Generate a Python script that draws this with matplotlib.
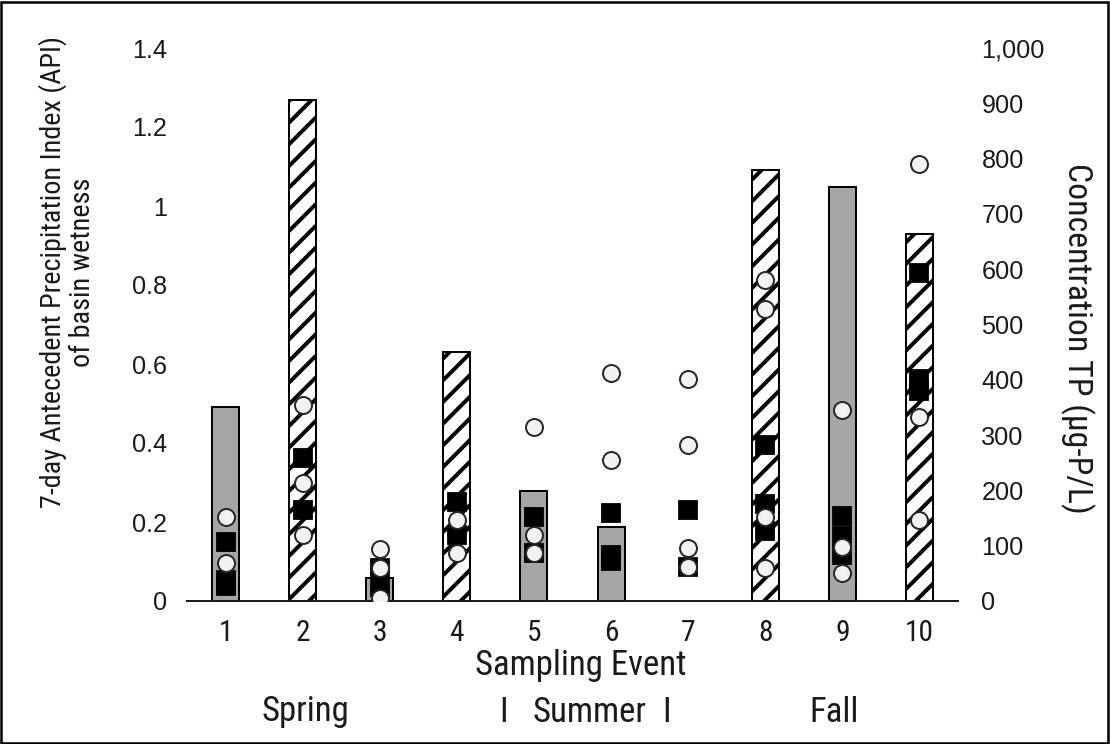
import matplotlib
matplotlib.use("Agg")
import matplotlib.pyplot as plt
from matplotlib.patches import Rectangle
from matplotlib import font_manager as fm
import matplotlib.transforms as mtransforms
import os

# ---------------- data ----------------
events = [1, 2, 3, 4, 5, 6, 7, 8, 9, 10]
api = [0.49, 1.268, 0.058, 0.63, 0.278, 0.187, 0.0, 1.09, 1.048, 0.929]
bar_hatched = [False, True, False, True, False, False, False, True, False, True]

# TP concentrations (ug-P/L), open circles
circle_tp = {
    1: [152, 69],
    2: [354, 213, 119],
    3: [94, 60, 6],
    4: [146, 87],
    5: [315, 119, 87],
    6: [412, 255],
    7: [401, 282, 96, 61],
    8: [580, 528, 152, 60],
    9: [345, 98, 51],
    10: [790, 333, 146],
}
# TP concentrations (ug-P/L), black squares
square_tp = {
    1: [107, 38, 28],
    2: [259, 165],
    3: [60, 25],
    4: [179, 119],
    5: [152, 87],
    6: [159, 83, 72],
    7: [165, 61],
    8: [282, 176, 126],
    9: [153, 118, 84],
    10: [593, 402, 379],
}

left_ticks = [0, 0.2, 0.4, 0.6, 0.8, 1.0, 1.2, 1.4]
left_ticklabels = ["0", "0.2", "0.4", "0.6", "0.8", "1", "1.2", "1.4"]
right_ticks = [0, 100, 200, 300, 400, 500, 600, 700, 800, 900, 1000]
right_ticklabels = ["0", "100", "200", "300", "400", "500", "600", "700", "800", "900", "1,000"]
seasons = [("Spring", 2.03), ("I", 4.6), ("Summer", 5.72), ("I", 6.72), ("Fall", 8.89)]
ylabel_left = "7-day Antecedent Precipitation Index (API)\nof basin wetness"
ylabel_right = "Concentration TP (\u00b5g-P/L)"
xlabel = "Sampling Event"

# ---------------- fonts ----------------
def pick_narrow_font():
    prefs = ["LiberationSansNarrow-Regular", "ArialNarrow", "ARIALN",
             "RobotoCondensed-Regular", "NotoSans-Condensed.", "NotoSans-SemiCondensed.",
             "DejaVuSansCondensed.", "OpenSans-Condensed"]
    files = [f.fname for f in fm.fontManager.ttflist]
    for p in prefs:
        for fn in files:
            if p.lower() in os.path.basename(fn).lower():
                return fn
    return None

narrow_file = pick_narrow_font()
def narrow_fp(size):
    if narrow_file:
        return fm.FontProperties(fname=narrow_file, size=size)
    return fm.FontProperties(family=["Liberation Sans", "DejaVu Sans"], size=size)

def regular_fp(size):
    return fm.FontProperties(family=["Liberation Sans", "DejaVu Sans"], size=size)

# ---------------- style ----------------
DPI = 130
W, H = 1110, 744
plt.rcParams["hatch.linewidth"] = 2.2
plt.rcParams["hatch.color"] = "black"
txt_color = "#1a1a1a"

fig = plt.figure(figsize=(W / DPI, H / DPI), dpi=DPI)
ax = fig.add_axes([187 / W, 1 - 601 / H, (958 - 187) / W, (601 - 48) / H])
ax2 = ax.twinx()

# bars
for e, v, h in zip(events, api, bar_hatched):
    if v <= 0:
        continue
    if h:
        ax.bar(e, v, width=0.35, facecolor="white", edgecolor="black",
               hatch="//", linewidth=1.1, zorder=2)
    else:
        ax.bar(e, v, width=0.35, facecolor="#a6a6a6", edgecolor="black",
               linewidth=1.1, zorder=2)

ax.set_xlim(0.5, 10.5)
ax.set_ylim(0, 1.4)
ax2.set_ylim(0, 1000)

# points
for e in events:
    ys = square_tp[e]
    ax2.plot([e] * len(ys), ys, linestyle="none", marker="s", markersize=9.8,
             markerfacecolor="black", markeredgecolor="black", zorder=3)
for e in events:
    ys = circle_tp[e]
    ax2.plot([e] * len(ys), ys, linestyle="none", marker="o", markersize=9.4,
             markerfacecolor="#f2f2f2", markeredgecolor="#262626",
             markeredgewidth=1.1, zorder=4)

# spines
for a in (ax, ax2):
    for s in ("top", "left", "right"):
        a.spines[s].set_visible(False)
ax.spines["bottom"].set_linewidth(1.1)
ax.spines["bottom"].set_color("#1a1a1a")
ax2.spines["bottom"].set_visible(False)

ax.set_xticks(events)
ax.set_xticklabels([str(e) for e in events], fontproperties=narrow_fp(14), color=txt_color)
ax.tick_params(axis="x", length=0, pad=10)
ax.set_yticks(left_ticks)
ax.set_yticklabels(left_ticklabels, fontproperties=regular_fp(14), color=txt_color)
ax.tick_params(axis="y", length=0, pad=11)
ax2.set_yticks(right_ticks)
ax2.set_yticklabels(right_ticklabels, fontproperties=regular_fp(14), color=txt_color)
ax2.tick_params(axis="y", length=0, pad=13)

# axis titles
t_left = fig.text(67 / W, 1 - 272 / H, ylabel_left,
                  rotation=90, ha="center", va="center", fontproperties=narrow_fp(14),
                  color=txt_color, linespacing=1.1, multialignment="center")
t_right = fig.text(1077 / W, 1 - 338 / H, ylabel_right,
                   rotation=270, ha="center", va="center", fontproperties=narrow_fp(16),
                   color=txt_color)
t_x = fig.text(581 / W, 1 - 665 / H, xlabel, ha="center", va="center",
               fontproperties=narrow_fp(16), color=txt_color)

season_tr = mtransforms.blended_transform_factory(ax.transData, fig.transFigure)
season_texts = []
for label, xpos in seasons:
    season_texts.append(ax.text(xpos, 1 - 712 / H, label, transform=season_tr,
                                ha="center", va="center", fontproperties=narrow_fp(16),
                                color=txt_color))

# fit title sizes to the reference pixel lengths
fig.canvas.draw()
rend = fig.canvas.get_renderer()
def fit(t, target, use_height):
    bb = t.get_window_extent(rend)
    cur = bb.height if use_height else bb.width
    return t.get_fontsize() * target / cur

s_left = fit(t_left, 470, True)
t_left.set_fontsize(s_left)
s_right = fit(t_right, 350, True)
t_right.set_fontsize(s_right)
s_x = fit(t_x, 212, False)
t_x.set_fontsize(s_x)
for t in season_texts:
    t.set_fontsize(s_x)
lab10 = ax.get_xticklabels()[-1]
s_tick = fit(lab10, 29, False)
for t in ax.get_xticklabels():
    t.set_fontsize(s_tick)

# figure border
fig.patches.append(Rectangle((1 / W, 1 / H), (W - 3) / W, (H - 3) / H,
                             transform=fig.transFigure, fill=False,
                             edgecolor="black", linewidth=1.4))

fig.savefig("out.png", dpi=DPI)
